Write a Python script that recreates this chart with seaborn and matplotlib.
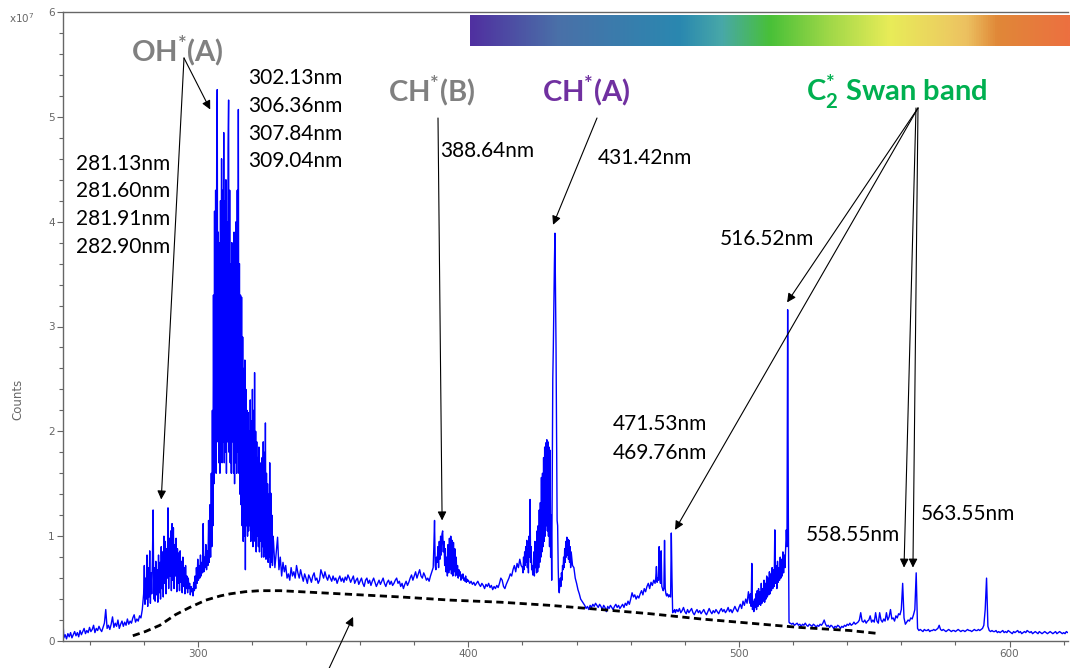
import numpy as np
import pandas as pd
import matplotlib
matplotlib.use("Agg")
import matplotlib.pyplot as plt
import seaborn as sns
from matplotlib.colors import LinearSegmentedColormap
from matplotlib.ticker import MultipleLocator

# ---------------- data (counts in units of 1e7) ----------------
# each band: start wavelength (nm), sampling step (nm), counts
uv_start, uv_step = 250.0, 0.5
counts_uv = [0.28, 0.03, 0.06, 0.02, 0.07, 0.04, 0.08, 0.03, 0.06, 0.09, 0.05, 0.08, 0.04, 0.10, 0.06,
             0.09, 0.12, 0.07, 0.10, 0.08, 0.13, 0.09, 0.11, 0.15, 0.08, 0.12, 0.10, 0.14, 0.11, 0.09,
             0.13, 0.17, 0.30, 0.12, 0.15, 0.11, 0.16, 0.23, 0.13, 0.17, 0.14, 0.20, 0.12, 0.16, 0.19,
             0.14, 0.18, 0.15, 0.21, 0.16, 0.19, 0.17, 0.22, 0.25, 0.18, 0.21, 0.19, 0.24, 0.22, 0.30]

oh281_start, oh281_step = 280.0, 0.25
counts_oh281 = [0.45, 0.72, 0.35, 0.60, 0.40, 0.82, 0.33, 0.70, 0.42, 0.86, 0.36, 0.65, 0.45, 0.78, 1.25, 0.40,
                0.70, 0.38, 0.76, 0.44, 0.68, 0.37, 0.82, 0.46, 0.75, 0.40, 0.90, 0.50, 0.85, 0.42, 1.00, 0.55,
                0.95, 0.45, 0.88, 0.60, 1.27, 0.50, 0.98, 0.62, 1.05, 0.48, 1.12, 0.58, 1.08, 0.50, 0.92, 0.62,
                0.98, 0.47, 0.88, 0.55, 0.84, 0.48, 0.86, 0.56, 0.76, 0.46, 0.80, 0.52, 0.70, 0.45, 0.72, 0.50,
                0.62, 0.46, 0.60, 0.50, 0.55, 0.44, 0.52, 0.47, 0.50, 0.43, 0.56, 0.48, 0.62, 0.50, 0.70, 0.55,
                0.78, 0.58, 0.72, 0.60, 0.82, 0.62, 0.75, 0.65, 1.12, 0.66, 0.80, 0.70, 0.92, 0.68, 0.86, 0.72,
                1.15, 0.75, 1.30, 0.80]

oh309_start, oh309_step = 305.0, 0.2
counts_oh309 = [1.60, 0.90, 2.20, 1.10, 3.30, 1.50, 4.10, 1.70, 4.30, 1.60, 4.60, 5.26, 1.90, 3.90, 1.70, 3.80,
                1.60, 4.20, 1.80, 4.60, 1.70, 4.30, 1.90, 4.85, 1.70, 4.20, 1.80, 4.40, 1.60, 4.00, 1.90, 4.70,
                5.16, 1.80, 4.30, 1.70, 3.60, 1.60, 3.80, 1.90, 3.40, 1.60, 3.90, 1.50, 3.20, 1.70, 4.00, 1.60,
                4.30, 1.80, 5.07, 1.60, 3.60, 1.40, 3.30, 1.30, 3.28, 1.10, 2.90, 0.95, 2.60, 1.00, 2.68, 0.68,
                2.40, 1.10, 2.20, 1.00, 2.18, 1.05, 2.00, 1.10, 2.30, 0.95, 2.10, 1.05, 2.40, 0.90, 2.20, 1.00,
                2.56, 0.95, 2.00, 0.85, 1.90, 1.00, 1.75, 0.90, 1.85, 0.85, 1.70, 0.95, 1.60, 0.80, 1.75, 0.90,
                1.90, 0.80, 1.80, 0.85, 2.08, 0.78, 1.60, 0.82, 1.50, 0.75, 1.40, 0.80, 1.70, 0.70, 1.41, 0.75,
                1.20, 0.72, 1.00]

mid_start, mid_step = 328.0, 0.5
counts_mid = [0.95, 0.70, 0.85, 0.99, 0.68, 0.80, 0.62, 0.75, 0.66, 0.72, 0.60, 0.64, 0.58, 0.70, 0.62,
              0.66, 0.60, 0.72, 0.65, 0.60, 0.68, 0.62, 0.57, 0.64, 0.60, 0.55, 0.63, 0.60, 0.56, 0.62,
              0.65, 0.58, 0.60, 0.55, 0.58, 0.68, 0.64, 0.60, 0.66, 0.61, 0.58, 0.63, 0.60, 0.57, 0.62,
              0.58, 0.60, 0.55, 0.59, 0.62, 0.57, 0.60, 0.56, 0.61, 0.58, 0.63, 0.60, 0.56, 0.59, 0.62,
              0.55, 0.58, 0.60, 0.54, 0.57, 0.60, 0.55, 0.52, 0.58, 0.60, 0.55, 0.58, 0.53, 0.57, 0.60,
              0.56, 0.52, 0.55, 0.58, 0.54, 0.57, 0.60, 0.55, 0.52, 0.56, 0.58, 0.54, 0.57, 0.53, 0.55,
              0.58, 0.60, 0.55, 0.57, 0.52, 0.55, 0.50, 0.54, 0.57, 0.53, 0.56, 0.60, 0.63, 0.58, 0.62,
              0.66, 0.60, 0.64, 0.68, 0.62, 0.60, 0.65, 0.62, 0.58, 0.60, 0.57, 0.62, 0.66]

chb_start, chb_step = 387.0, 0.25
counts_chb = [0.70, 0.90, 1.15, 0.72, 0.68, 0.80, 0.75, 0.90, 0.70, 0.95, 0.78, 1.00, 0.82, 1.02, 1.05, 0.85,
              0.95, 0.72, 0.88, 0.66, 0.80, 0.62, 0.92, 0.65, 0.98, 0.68, 1.00, 0.64, 0.96, 0.62, 0.94, 0.66,
              0.88, 0.62, 0.80, 0.63, 0.72, 0.60, 0.68, 0.62, 0.66, 0.58, 0.63, 0.60, 0.64, 0.58, 0.60, 0.57,
              0.62, 0.56, 0.59, 0.57]

gap_start, gap_step = 400.0, 0.5
counts_gap = [0.58, 0.55, 0.57, 0.54, 0.56, 0.53, 0.55, 0.57, 0.54, 0.52, 0.55, 0.53, 0.50, 0.54, 0.52,
              0.55, 0.51, 0.53, 0.49, 0.52, 0.50, 0.53, 0.51, 0.55, 0.60, 0.58, 0.52, 0.50, 0.54, 0.57,
              0.60, 0.64, 0.62, 0.68, 0.72, 0.66, 0.74, 0.70, 0.78, 0.72]

cha_start, cha_step = 420.0, 0.2
counts_cha = [0.70, 0.65, 0.80, 0.68, 0.85, 0.72, 0.90, 0.75, 0.96, 0.70, 0.88, 0.65, 1.00, 0.80, 1.35, 0.75,
              0.90, 0.68, 0.72, 0.63, 0.66, 0.85, 0.62, 0.95, 0.70, 0.90, 0.65, 1.05, 0.66, 1.10, 0.70, 1.25,
              0.75, 1.32, 0.80, 1.56, 0.85, 1.60, 0.90, 1.75, 0.95, 1.85, 1.00, 1.89, 1.10, 1.92, 1.05, 1.90,
              1.00, 1.85, 0.90, 1.82, 0.80, 1.20, 0.58, 1.50, 2.50, 2.80, 3.20, 3.60, 3.89, 3.30, 2.80, 1.90,
              1.15, 1.10, 0.70, 0.50, 0.46, 0.55, 0.60, 0.52, 0.65, 0.58, 0.72, 0.68, 0.80, 0.70, 0.88, 0.75,
              0.95, 0.80, 0.99, 0.82, 0.97, 0.78, 0.96, 0.75, 0.90, 0.70]

vis_start, vis_step = 438.0, 0.5
counts_vis = [0.85, 0.72, 0.70, 0.60, 0.55, 0.49, 0.45, 0.40, 0.38, 0.36, 0.34, 0.31, 0.33, 0.30, 0.34,
              0.32, 0.35, 0.33, 0.36, 0.34, 0.32, 0.35, 0.33, 0.30, 0.34, 0.32, 0.28, 0.33, 0.31, 0.34,
              0.32, 0.30, 0.33, 0.35, 0.32, 0.34, 0.31, 0.33, 0.35, 0.32, 0.36, 0.34, 0.38, 0.35, 0.40,
              0.46, 0.42, 0.44, 0.40, 0.43, 0.41, 0.45, 0.48, 0.44, 0.50, 0.47, 0.52, 0.55, 0.50, 0.56,
              0.53, 0.58]

c2a_start, c2a_step = 469.0, 0.25
counts_c2a = [0.55, 0.60, 0.71, 0.56, 0.60, 0.58, 0.90, 0.60, 0.55, 0.86, 0.52, 0.50, 0.48, 0.50, 0.96,
              0.50, 0.45, 0.43, 0.45, 0.44, 0.42, 0.44, 0.43, 0.42, 1.03, 0.60, 0.27, 0.29, 0.28, 0.30]

c2b_start, c2b_step = 476.5, 0.5
counts_c2b = [0.27, 0.30, 0.28, 0.31, 0.27, 0.29, 0.32, 0.28, 0.26, 0.30, 0.27, 0.29, 0.31, 0.27, 0.25,
              0.28, 0.30, 0.27, 0.29, 0.26, 0.28, 0.30, 0.27, 0.25, 0.28, 0.31, 0.28, 0.26, 0.29, 0.27,
              0.30, 0.28, 0.26, 0.29, 0.31, 0.28, 0.30, 0.27, 0.29, 0.32, 0.28, 0.30, 0.27, 0.30, 0.33,
              0.30, 0.28, 0.32, 0.35, 0.31, 0.38, 0.34, 0.40, 0.36, 0.47]

c2c_start, c2c_step = 504.0, 0.25
counts_c2c = [0.36, 0.45, 0.33, 0.74, 0.30, 0.38, 0.28, 0.40, 0.32, 0.45, 0.30, 0.48, 0.33, 0.50, 0.35,
              0.47, 0.34, 0.55, 0.36, 0.50, 0.38, 0.58, 0.37, 0.55, 0.40, 0.62, 0.42, 0.60, 0.44, 0.66,
              0.45, 0.64, 0.48, 0.70, 0.50, 0.68, 0.52, 1.06, 0.55, 0.72, 0.50, 0.76, 0.56, 0.70, 0.58,
              0.80, 0.60, 0.78, 0.62, 0.85, 0.65, 0.82, 0.70, 0.88, 1.06, 0.90, 3.16, 1.20, 0.18, 0.17]

tail_start, tail_step = 519.0, 0.5
counts_tail = [0.17, 0.16, 0.17, 0.15, 0.16, 0.17, 0.15, 0.16, 0.14, 0.16, 0.15, 0.17, 0.15, 0.14, 0.16,
               0.15, 0.14, 0.16, 0.15, 0.13, 0.15, 0.14, 0.16, 0.15, 0.17, 0.20, 0.16, 0.14, 0.15, 0.13,
               0.15, 0.14, 0.12, 0.14, 0.13, 0.15, 0.14, 0.12, 0.14, 0.13, 0.15, 0.14, 0.16, 0.15, 0.17,
               0.15, 0.16, 0.18, 0.16, 0.17, 0.18, 0.20, 0.27, 0.19, 0.18, 0.20, 0.17, 0.19, 0.20, 0.24,
               0.18, 0.20, 0.18, 0.27, 0.19, 0.17, 0.27, 0.20, 0.18, 0.21, 0.19, 0.27, 0.20, 0.23, 0.30,
               0.21, 0.22, 0.19, 0.24, 0.22, 0.26, 0.25, 0.30, 0.55, 0.22, 0.16, 0.18, 0.20, 0.19, 0.22,
               0.21, 0.25, 0.30, 0.65, 0.12, 0.10, 0.11, 0.10, 0.09, 0.11, 0.10, 0.10, 0.11, 0.09, 0.10,
               0.10, 0.11, 0.10, 0.11, 0.12, 0.15, 0.11, 0.10, 0.11, 0.10, 0.09, 0.10, 0.11, 0.10, 0.09,
               0.10, 0.10, 0.09, 0.10, 0.11, 0.10, 0.09, 0.10, 0.10, 0.09, 0.10, 0.11, 0.10, 0.10, 0.09,
               0.10, 0.11, 0.10, 0.10, 0.11, 0.10, 0.11, 0.12, 0.15, 0.30, 0.60, 0.14, 0.10, 0.09, 0.10,
               0.09, 0.09, 0.10, 0.08, 0.09, 0.08, 0.09, 0.10, 0.08, 0.09, 0.08, 0.10, 0.09, 0.08, 0.07,
               0.09, 0.08, 0.09, 0.10, 0.08, 0.09, 0.07, 0.08, 0.09, 0.08, 0.10, 0.09, 0.08, 0.09, 0.07,
               0.08, 0.09, 0.08, 0.07, 0.09, 0.08, 0.07, 0.08, 0.09, 0.08, 0.07, 0.08, 0.09, 0.08, 0.07,
               0.08, 0.09, 0.07, 0.08, 0.09, 0.08, 0.07, 0.08, 0.07, 0.09, 0.08]

# dashed background (continuum) curve
baseline_wl = [276, 280.6, 286, 291.7, 297, 303, 308.3, 312, 317.5, 323, 330.5, 338, 375, 393.3, 412,
               430.2, 449, 467.2, 486, 504.1, 522, 541, 552]
baseline_val = [0.05, 0.09, 0.15, 0.25, 0.32, 0.39, 0.43, 0.45, 0.47, 0.48, 0.48, 0.47, 0.42, 0.39, 0.37,
                0.34, 0.30, 0.26, 0.21, 0.17, 0.13, 0.10, 0.07]

x_ticks = [300, 400, 500, 600]
y_ticks = [0, 1, 2, 3, 4, 5, 6]

oh_a_lines = ["302.13nm", "306.36nm", "307.84nm", "309.04nm"]
oh_b_lines = ["281.13nm", "281.60nm", "281.91nm", "282.90nm"]
c2_lines = ["471.53nm", "469.76nm"]

spectrum_colors = ["#5030a0", "#4a70a8", "#2a88b0", "#48a8a8", "#48c038", "#a0d848",
                   "#e8ec58", "#ecd060", "#ecc060", "#e08838", "#ec7040"]
spectrum_stops = [0.0, 0.145, 0.35, 0.42, 0.50, 0.60, 0.70, 0.79, 0.83, 0.88, 1.0]

# ---------------- assemble ----------------
bands = [(uv_start, uv_step, counts_uv), (oh281_start, oh281_step, counts_oh281),
         (oh309_start, oh309_step, counts_oh309), (mid_start, mid_step, counts_mid),
         (chb_start, chb_step, counts_chb), (gap_start, gap_step, counts_gap),
         (cha_start, cha_step, counts_cha), (vis_start, vis_step, counts_vis),
         (c2a_start, c2a_step, counts_c2a), (c2b_start, c2b_step, counts_c2b),
         (c2c_start, c2c_step, counts_c2c), (tail_start, tail_step, counts_tail)]
wl = np.concatenate([s + st * np.arange(len(v)) for s, st, v in bands])
cnt = np.concatenate([np.asarray(v, float) for _, _, v in bands])
df = pd.DataFrame({"wavelength": wl, "counts": cnt})
df_base = pd.DataFrame({"wavelength": baseline_wl, "counts": baseline_val})

# ---------------- figure ----------------
sns.set_style("white")
plt.rcParams["font.family"] = ["DejaVu Sans"]
plt.rcParams["mathtext.fontset"] = "custom"
plt.rcParams["mathtext.rm"] = "Lato"
plt.rcParams["mathtext.bf"] = "Lato:bold"
plt.rcParams["mathtext.default"] = "regular"

W, H = 1070, 668
fig = plt.figure(figsize=(W / 100, H / 100), dpi=100)
ax = fig.add_axes([63 / W, 1 - 641 / H, (1068 - 63) / W, (641 - 12) / H])

sns.lineplot(data=df, x="wavelength", y="counts", ax=ax, color="#0000ff", lw=1.0,
             estimator=None, sort=False)
sns.lineplot(data=df_base, x="wavelength", y="counts", ax=ax, color="black", lw=2.0,
             estimator=None, sort=False, linestyle=(0, (2.6, 1.6)))

ax.set_xlim(250.2, 621.6)
ax.set_ylim(0, 6)
ax.set_xticks(x_ticks)
ax.set_yticks(y_ticks)
ax.xaxis.set_minor_locator(MultipleLocator(20))
ax.yaxis.set_minor_locator(MultipleLocator(0.2))
ax.set_xlabel("")
ax.set_ylabel("")
spine_c = "#666666"
for s in ["left", "bottom", "top"]:
    ax.spines[s].set_color(spine_c)
    ax.spines[s].set_linewidth(1.0)
ax.spines["right"].set_visible(False)
ax.tick_params(which="both", direction="out", color=spine_c, labelcolor="#666666",
               labelsize=7.5, top=False, right=False, left=True, bottom=True)
ax.tick_params(which="major", length=4, width=0.8, pad=2)
ax.tick_params(which="minor", length=3, width=0.8)

fig.text(18 / W, 1 - 399 / H, "Counts", rotation=90, fontsize=8.5, color="#666666",
         ha="center", va="center")
fig.text(9 / W, 1 - 18 / H, "x10$^7$", fontsize=7.5, color="#666666", ha="left", va="center",
         family="DejaVu Sans")

# ---------------- colour spectrum bar ----------------
cmap = LinearSegmentedColormap.from_list("vis", list(zip(spectrum_stops, spectrum_colors)))
cax = fig.add_axes([470 / W, 1 - 46 / H, 600 / W, 31 / H])
cax.imshow(np.linspace(0, 1, 512)[None, :], aspect="auto", cmap=cmap)
cax.set_axis_off()

# ---------------- annotations ----------------
def fp(px, py):
    return (px / W, 1 - py / H)

lbl = dict(family=["Lato", "DejaVu Sans"], fontsize=15, color="black", ha="left", va="baseline")
big = dict(family=["Lato", "DejaVu Sans"], fontsize=21, fontweight="bold", ha="left", va="baseline")

fig.text(*fp(131, 61), "OH$^{*}$(A)", color="#808080", **big)
fig.text(*fp(388, 101), "CH$^{*}$(B)", color="#808080", **big)
fig.text(*fp(542, 101), "CH$^{*}$(A)", color="#7030a0", **big)
fig.text(*fp(806, 101), "C$_{2}^{*}$ Swan band", color="#00b050", **big)

for t, y in zip(oh_a_lines, [84, 112, 140, 167]):
    fig.text(*fp(248, y), t, **lbl)
for t, y in zip(oh_b_lines, [170, 197, 225, 253]):
    fig.text(*fp(76, y), t, **lbl)
for t, y in zip(c2_lines, [430, 459]):
    fig.text(*fp(613, y), t, **lbl)
fig.text(*fp(440, 157), "388.64nm", **lbl)
fig.text(*fp(598, 164), "431.42nm", **lbl)
fig.text(*fp(720, 245), "516.52nm", **lbl)
fig.text(*fp(806, 541), "558.55nm", **lbl)
fig.text(*fp(921, 520), "563.55nm", **lbl)

arrow = dict(arrowstyle="-|>", color="black", lw=0.8, mutation_scale=13, shrinkA=0, shrinkB=0)

def arr(tail_px, head_data):
    ax.annotate("", xy=head_data, xycoords="data", xytext=fp(*tail_px),
                textcoords="figure fraction", arrowprops=arrow, annotation_clip=False)

arr((184, 58), (286.5, 1.35))
arr((184, 58), (304.6, 5.07))
arr((438, 118), (390.3, 1.15))
arr((597, 118), (431.3, 3.97))
arr((918, 108), (517.8, 3.23))
arr((918, 108), (476.4, 1.06))
arr((916, 108), (561.0, 0.70))
arr((918, 108), (564.3, 0.70))
arr((319, 690), (357.4, 0.23))

fig.savefig("out.png", dpi=100)
